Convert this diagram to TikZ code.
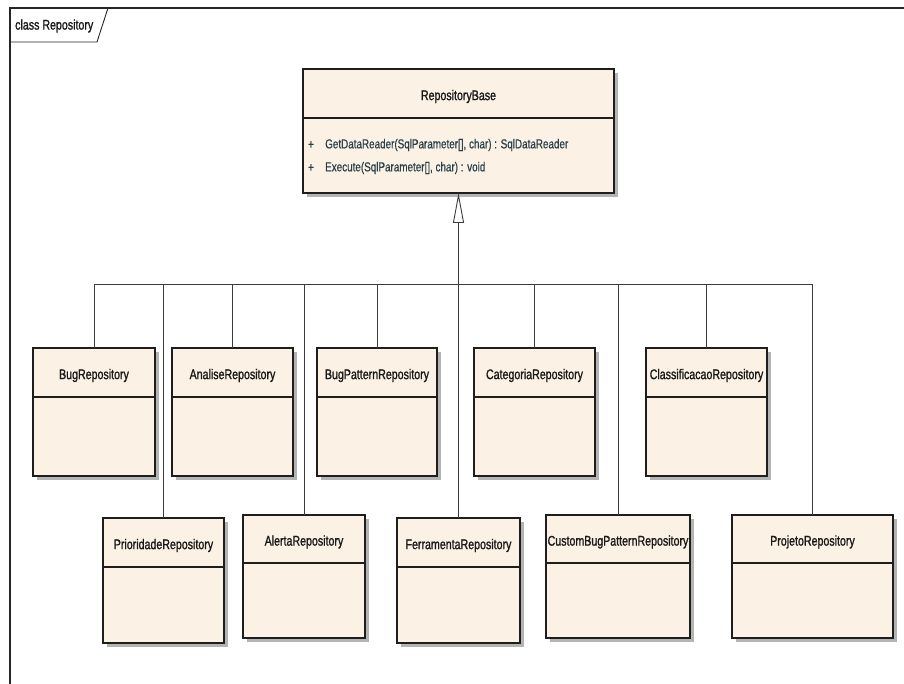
\documentclass[tikz,border=0pt]{standalone}
\usepackage{fontspec}
\setmainfont{Liberation Sans}[FakeStretch=0.76]
\newfontfamily\clsfont{Liberation Sans}[FakeStretch=0.76, FakeBold=1.2]
\newfontfamily\methfont{Liberation Sans}[FakeStretch=0.76, FakeBold=0.5]
\usetikzlibrary{arrows.meta,shadows,calc}
\definecolor{clsfill}{RGB}{251,241,228}
\definecolor{clsborder}{RGB}{30,30,30}
\definecolor{connline}{RGB}{60,60,60}
\definecolor{shadowgray}{RGB}{180,180,180}
\definecolor{methodcol}{RGB}{40,62,72}
\tikzset{
  clsbox/.style={draw=clsborder, line width=1.2pt, fill=clsfill, rectangle, inner sep=0pt, outer sep=0pt,
    drop shadow={shadow xshift=4pt, shadow yshift=-4pt, fill=shadowgray, opacity=1}},
  clssep/.style={draw=clsborder, line width=1.2pt},
  clslabel/.style={font=\clsfont\fontsize{14}{16}\selectfont, text=black!90, inner sep=0pt},
  methodtxt/.style={font=\methfont\fontsize{13}{15}\selectfont, text=methodcol, inner sep=0pt, anchor=west},
  conn/.style={draw=connline, line width=0.9pt},
  gen/.style={conn, -{Triangle[open, length=30pt, width=11pt, line width=0.9pt]}},
  framebd/.style={draw=black!85, line width=1.2pt},
}
% #1 name, #2 left, #3 top, #4 right, #5 bottom, #6 separator y, #7 label
\newcommand{\umlclassbox}[7]{%
  \node[clsbox, anchor=north west, minimum width={(#4-#2)*1pt}, minimum height={(#5-#3)*1pt}] (#1) at (#2,#3) {};
  \draw[clssep] (#1.west |- 0,#6) -- (#1.east |- 0,#6);
  \node[clslabel] (#1-name) at ({(#2+#4)/2},{(#3+#6)/2+3}) {#7};
}
\begin{document}
\begin{tikzpicture}[x=1pt,y=-1pt]
\useasboundingbox (0,0) rectangle (904,684);
\fill[white] (0,0) rectangle (904,684);
% frame
\draw[framebd] (10,684) -- (10,8) -- (904,8);
\draw[framebd, line width=0.9pt] (10,42) -- (97,42) -- (108,8);
\node[clslabel, anchor=west] (frametitle) at (15,26) {class Repository};

% base class
\umlclassbox{base}{303}{69}{614}{193}{118}{RepositoryBase}
\node[methodtxt] (m1plus) at (308,145) {+};
\node[methodtxt] (m1) at (325,145) {GetDataReader(SqlParameter[], char) : SqlDataReader};
\node[methodtxt] (m2plus) at (308,168) {+};
\node[methodtxt] (m2) at (325,168) {Execute(SqlParameter[], char) : void};

% top row
\umlclassbox{bug}{33}{348}{155}{476}{397}{BugRepository}
\umlclassbox{analise}{172}{348}{293}{476}{397}{AnaliseRepository}
\umlclassbox{bugpattern}{317}{348}{437}{476}{397}{BugPatternRepository}
\umlclassbox{categoria}{474}{348}{595}{476}{397}{CategoriaRepository}
\umlclassbox{classif}{646}{348}{767}{476}{397}{ClassificacaoRepository}

% bottom row
\umlclassbox{prioridade}{103}{518}{224}{643}{567}{PrioridadeRepository}
\umlclassbox{alerta}{243}{515}{365}{638}{563}{AlertaRepository}
\umlclassbox{ferramenta}{397}{518}{520}{643}{567}{FerramentaRepository}
\umlclassbox{custom}{546}{515}{690}{638}{563}{CustomBugPatternRepository}
\umlclassbox{projeto}{732}{515}{893}{638}{563}{ProjetoRepository}

% bus
\coordinate (busy) at (0,284);
\draw[conn] (bug.north |- busy) -- (projeto.north |- busy);
\draw[gen] (ferramenta.north) -- (base.south);
\foreach \c in {bug,analise,bugpattern,categoria,classif,prioridade,alerta,custom,projeto}{
  \draw[conn] (\c.north) -- (\c.north |- busy);
}
\end{tikzpicture}
\end{document}
